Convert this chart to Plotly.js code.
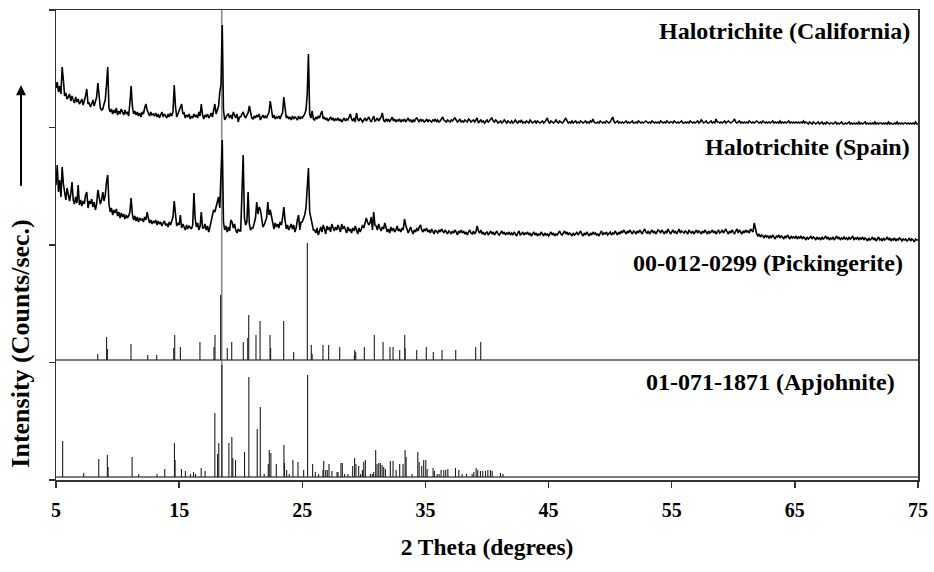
<!DOCTYPE html>
<html><head><meta charset="utf-8">
<script src="https://cdn.plot.ly/plotly-3.0.1.min.js"></script>
<style>html,body{margin:0;padding:0;background:#fff}#chart{width:934px;height:572px}</style>
</head><body><div id="chart"></div>
<script>
// 2-theta grid of the measured patterns (start, step in degrees)
const thetaStart = 5, thetaStep = 0.1;

// Halotrichite (California) – offset intensity, one value per 0.1 deg from 5 to 75
const californiaCounts = [
392,398,388,394,386,413,400,384,387,381,
383,386,379,384,380,377,383,378,381,376,
378,381,375,379,384,391,376,377,373,376,
380,374,378,383,397,384,372,370,371,376,
380,395,413,372,368,371,366,370,367,372,
365,369,366,371,367,365,370,366,368,364,
377,394,374,366,369,365,368,364,367,363,
368,366,372,376,370,367,364,368,365,366,
364,367,363,366,362,365,368,363,366,364,
362,366,363,367,364,368,395,374,363,366,
369,372,376,366,367,362,365,363,366,361,
364,362,366,363,365,362,368,364,376,365,
361,365,363,366,362,364,367,363,368,376,
366,370,374,388,395,455,370,360,363,365,
366,362,365,361,368,364,362,366,358,363,
363,366,368,364,362,365,367,374,366,362,
361,364,362,365,363,366,360,363,365,362,
364,362,366,368,379,370,362,365,361,363,
362,364,361,365,367,383,372,362,364,361,
363,360,364,361,363,362,360,364,361,363,
362,364,366,370,385,426,366,362,369,361,
360,363,361,364,362,366,369,361,363,360,
362,359,361,363,360,362,359,361,360,362,
359,361,358,360,362,359,361,360,363,366,
361,359,362,358,367,361,359,362,360,358,
360,362,359,361,363,360,358,361,364,359,
360,362,359,361,363,367,360,358,361,359,
361,358,360,363,359,361,358,360,359,361,
358,360,359,361,358,360,362,359,360,358,
360,358,361,362,360,358,361,359,360,358,
359,361,358,360,359,358,360,359,361,358,
360,358,359,361,363,360,359,358,360,359,
358,360,359,361,362,360,358,359,361,358,
359,358,360,359,358,361,360,358,359,360,
358,360,362,357,359,360,358,359,357,359,
360,358,359,361,362,359,358,360,359,357,
358,359,357,358,360,358,357,359,358,357,
359,357,358,360,358,357,359,358,360,357,
358,357,359,358,357,360,358,357,358,359,
357,359,358,357,358,359,357,358,360,362,
358,357,359,358,357,358,360,358,357,359,
358,357,358,360,362,359,357,358,357,359,
357,358,359,357,358,357,359,358,357,358,
359,357,358,357,359,358,361,358,357,357,
358,357,359,358,357,358,357,359,358,357,
358,360,363,359,357,358,359,357,358,357,
358,357,358,359,357,358,357,358,359,357,
357,358,357,359,358,357,358,357,358,359,
358,357,358,357,359,358,357,358,357,358,
357,359,358,357,358,357,359,358,357,358,
358,357,359,358,357,358,357,358,359,357,
357,358,357,358,357,359,358,357,358,357,
358,359,357,358,360,358,357,358,359,357,
357,358,359,357,358,357,361,358,358,357,
358,357,358,359,357,358,359,358,357,358,
359,361,358,357,358,359,357,358,357,358,
357,358,357,359,358,357,358,357,358,359,
358,357,358,357,359,358,357,358,357,358,
357,358,359,357,358,357,358,357,359,357,
358,357,358,357,358,359,357,358,357,358,
357,358,357,358,357,358,357,359,357,358,
357,356,358,357,356,358,357,356,357,358,
356,357,358,356,357,356,358,357,356,357,
357,356,357,358,356,357,356,357,358,356,
356,357,356,357,358,356,357,356,357,356,
357,356,358,356,357,356,357,358,356,357,
356,357,356,357,356,358,356,357,356,357,
357,356,357,356,357,356,358,356,357,356,
356,357,356,358,356,357,356,357,356,357,
357,356,357,356,357,356,357,356,358,356,
356];

// Halotrichite (Spain) – offset intensity, one value per 0.1 deg from 5 to 75
const spainCounts = [
295,315,288,300,283,313,296,285,280,292,
284,279,286,298,280,276,283,277,295,275,
280,274,279,276,285,288,272,279,276,281,
273,278,270,276,290,282,276,280,288,279,
285,298,305,276,268,272,265,270,267,271,
264,268,262,267,263,266,261,265,262,264,
268,282,266,260,264,259,263,258,262,260,
261,258,263,260,268,262,257,260,256,259,
257,260,255,259,256,258,254,257,259,255,
256,253,258,255,259,263,279,262,254,257,
255,265,252,256,253,250,255,251,254,252,
251,255,287,262,253,257,250,254,268,252,
252,256,250,254,248,253,258,262,270,268,
273,275,283,272,300,340,258,250,254,248,
253,249,260,258,252,256,250,247,251,249,
249,300,325,262,255,258,288,256,250,252,
252,257,262,278,266,273,270,262,253,255,
258,262,278,265,270,264,255,251,257,253,
256,252,258,255,262,273,260,251,255,250,
253,256,251,255,248,252,260,265,250,258,
258,262,265,272,290,312,268,262,255,250,
250,247,252,245,249,253,248,255,251,246,
254,250,253,248,256,251,249,253,250,255,
252,248,256,251,254,250,247,253,249,251,
247,252,249,254,250,246,252,248,251,255,
252,256,262,258,255,257,263,250,268,255,
254,250,256,252,249,253,251,257,252,248,
251,247,253,249,252,248,250,254,249,251,
248,252,250,261,255,251,247,250,253,249,
246,250,248,252,249,253,255,250,248,251,
249,252,248,250,247,251,249,246,250,248,
247,250,248,251,249,247,250,248,246,249,
248,246,249,247,250,248,245,249,247,250,
247,249,246,248,245,248,250,247,246,249,
246,248,254,249,247,250,246,248,245,247,
248,245,247,249,246,248,245,247,249,246,
245,247,249,246,248,245,247,246,248,245,
247,245,248,246,244,247,249,245,246,248,
245,247,246,248,245,247,244,246,248,245,
247,244,246,245,248,246,244,247,245,246,
244,246,248,245,247,244,246,245,247,249,
246,245,247,249,246,248,245,247,246,244,
247,245,246,248,245,247,249,246,244,247,
245,248,246,244,247,245,248,246,247,245,
246,244,247,249,245,247,246,248,245,247,
248,245,247,246,249,247,245,248,246,249,
247,250,248,246,249,247,250,248,246,249,
248,246,249,247,250,248,246,249,251,248,
247,249,246,248,250,247,249,246,248,250,
249,247,250,248,246,249,247,251,248,246,
248,250,247,249,246,248,251,247,249,248,
247,249,248,246,250,248,247,249,246,248,
250,247,249,248,246,249,247,250,248,246,
249,247,248,250,247,249,246,248,250,247,
248,250,247,249,251,248,246,249,247,250,
248,246,249,251,247,250,248,246,249,247,
250,248,249,247,251,249,248,257,250,246,
244,246,243,245,244,242,245,243,244,242,
244,242,245,243,241,244,243,245,242,244,
243,241,244,242,245,243,241,244,242,243,
242,244,241,243,242,244,241,243,242,240,
243,241,242,244,241,243,242,240,243,241,
242,240,243,241,242,244,241,243,240,242,
241,243,240,242,244,241,243,240,242,241,
243,241,242,240,243,241,242,244,240,242,
241,243,240,242,241,243,240,242,241,239,
242,240,241,243,240,242,239,241,243,240,
241,239,242,240,241,243,240,242,239,241,
240,242,239,241,240,242,241,239,241,240,
241,239,240,242,239,241,240,238,241,240,
240];

// Reference pattern 00-012-0299 (Pickingerite): stick positions and heights
const pickingeritePos = [8.39,9.11,9.17,11.09,12.45,13.18,14.56,14.64,15.10,16.69,17.83,17.91,18.37,18.91,19.27,20.21,20.57,20.65,21.24,21.57,22.38,22.43,23.49,24.30,25.41,25.73,25.80,26.68,27.14,28.04,29.23,29.26,29.34,30.04,30.85,31.56,32.12,32.37,32.91,33.32,33.35,34.29,35.07,35.64,36.35,37.46,39.08,39.49];
const pickingeriteInt = [6,23,11,16,5,5,12,25,13,18,13,25,65,12,18,18,22,45,25,39,25,12,39,8,117,15,6,15,15,13,5,10,8,13,25,18,13,13,10,25,12,10,13,8,10,10,13,18];
const pickingeriteBase = 120;

// Reference pattern 01-071-1871 (Apjohnite): stick positions and heights
const apjohnitePos = [5.54,7.25,8.47,9.17,9.23,11.18,11.72,13.21,13.83,14.62,14.67,15.19,15.51,15.92,16.17,16.33,16.79,17.11,17.90,18.12,18.22,18.47,19.04,19.28,19.36,19.58,20.31,20.66,21.34,21.59,21.91,22.24,22.32,22.45,22.89,23.51,23.56,23.73,23.94,24.24,24.65,25.11,25.43,25.84,26.06,26.33,26.68,26.74,26.90,27.03,27.17,27.41,27.82,27.90,28.14,28.25,28.44,28.71,29.09,29.25,29.36,29.58,29.74,29.88,29.99,30.12,30.53,30.69,30.80,30.96,31.07,31.21,31.34,31.48,31.61,31.75,32.15,32.37,32.62,32.91,33.18,33.35,33.43,33.92,34.38,34.49,34.70,34.86,35.03,35.14,35.62,35.73,35.95,36.11,36.27,36.49,36.65,36.82,37.44,37.71,37.98,38.33,38.79,38.93,39.12,39.25,39.47,39.66,39.88,40.07,40.28,40.42,41.10,41.30];
const apjohniteInt = [36,4,18,22,10,20,3,3,8,34,17,8,6,3,5,3,9,6,64,23,34,112,34,40,19,17,25,100,48,70,3,13,27,24,13,32,14,7,3,17,15,7,102,13,5,3,7,16,7,7,13,6,5,5,14,14,3,3,11,19,13,11,3,7,15,17,3,3,5,27,13,14,14,12,10,8,16,16,7,13,13,27,20,3,25,15,11,17,17,8,9,6,3,3,7,7,7,8,9,7,3,3,3,5,9,7,6,6,6,7,7,6,4,3];
const apjohniteBase = 3;

// Marker line through the main halotrichite reflection
const markerTheta = [18.46];

// Axes
const xRange = [5, 75];
const xTicks = [5, 15, 25, 35, 45, 55, 65, 75];
const yRange = [0, 470];
const yTicks = [0, 117.5, 235, 352.5, 470];

// Pattern labels
const labelText = ['Halotrichite (California)', 'Halotrichite (Spain)', '00-012-0299 (Pickingerite)', '01-071-1871 (Apjohnite)'];
const labelX = [74.51, 74.51, 73.95, 73.3];
const labelY = [449, 333, 217, 98];

const serif = 'Liberation Serif, Times New Roman, serif';

function sticks(pos, ints, base) {
  const x = [], y = [];
  pos.forEach((p, i) => { x.push(p, p, null); y.push(base, base + ints[i], null); });
  return {type: 'scatter', mode: 'lines', x: x, y: y, line: {color: '#1e1e1e', width: 1.1}, hoverinfo: 'skip', showlegend: false};
}
function baseline(b) {
  return {type: 'scatter', mode: 'lines', x: xRange, y: [b, b], line: {color: '#555', width: 1.6}, hoverinfo: 'skip', showlegend: false};
}

const traces = [
  {type: 'scatter', mode: 'lines', x: [markerTheta[0], markerTheta[0]], y: [apjohniteBase, yRange[1]], line: {color: '#8a8a8a', width: 1.6}, hoverinfo: 'skip', showlegend: false},
  baseline(apjohniteBase),
  baseline(pickingeriteBase),
  sticks(apjohnitePos, apjohniteInt, apjohniteBase),
  sticks(pickingeritePos, pickingeriteInt, pickingeriteBase),
  {type: 'scatter', mode: 'lines', x0: thetaStart, dx: thetaStep, y: spainCounts, line: {color: '#000', width: 1.6}, showlegend: false},
  {type: 'scatter', mode: 'lines', x0: thetaStart, dx: thetaStep, y: californiaCounts, line: {color: '#000', width: 1.6}, showlegend: false}
];

const annotations = labelText.map((t, i) => ({
  x: labelX[i], y: labelY[i], xref: 'x', yref: 'y', text: t, showarrow: false,
  xanchor: 'right', yanchor: 'middle', font: {family: serif, size: 24, color: '#000', weight: 'bold'}
}));
annotations.push({
  xref: 'paper', yref: 'paper', x: -0.0406, y: 0.29, text: 'Intensity (Counts/sec.)', textangle: -90,
  showarrow: false, xanchor: 'center', yanchor: 'middle', font: {family: serif, size: 26, color: '#000', weight: 'bold'}
});
annotations.push({
  xref: 'paper', yref: 'paper', x: -0.0406, y: 0.84, text: '', showarrow: true,
  ax: 0, ay: 102, arrowhead: 2, arrowsize: 1, arrowwidth: 2, arrowcolor: '#000'
});

const layout = {
  width: 934, height: 572,
  margin: {l: 56, r: 16, t: 10, b: 92},
  paper_bgcolor: '#fff', plot_bgcolor: '#fff',
  showlegend: false,
  xaxis: {
    range: xRange, tickmode: 'array', tickvals: xTicks, ticks: 'outside', ticklen: 6, tickwidth: 1.5, tickcolor: '#333',
    showline: true, linecolor: '#333', linewidth: 1.5, mirror: true, showgrid: false, zeroline: false,
    ticklabelstandoff: 5,
    tickfont: {family: serif, size: 20, color: '#000', weight: 'bold'},
    title: {text: '2 Theta (degrees)', font: {family: serif, size: 23.5, color: '#000', weight: 'bold'}, standoff: 19}
  },
  yaxis: {
    range: yRange, tickmode: 'array', tickvals: yTicks, ticks: 'outside', ticklen: 6, tickwidth: 1.5, tickcolor: '#333',
    showticklabels: false, showline: true, linecolor: '#333', linewidth: 1.5, mirror: true, showgrid: false, zeroline: false
  },
  annotations: annotations
};

Plotly.newPlot('chart', traces, layout, {displayModeBar: false, staticPlot: true});
</script>
</body></html>
